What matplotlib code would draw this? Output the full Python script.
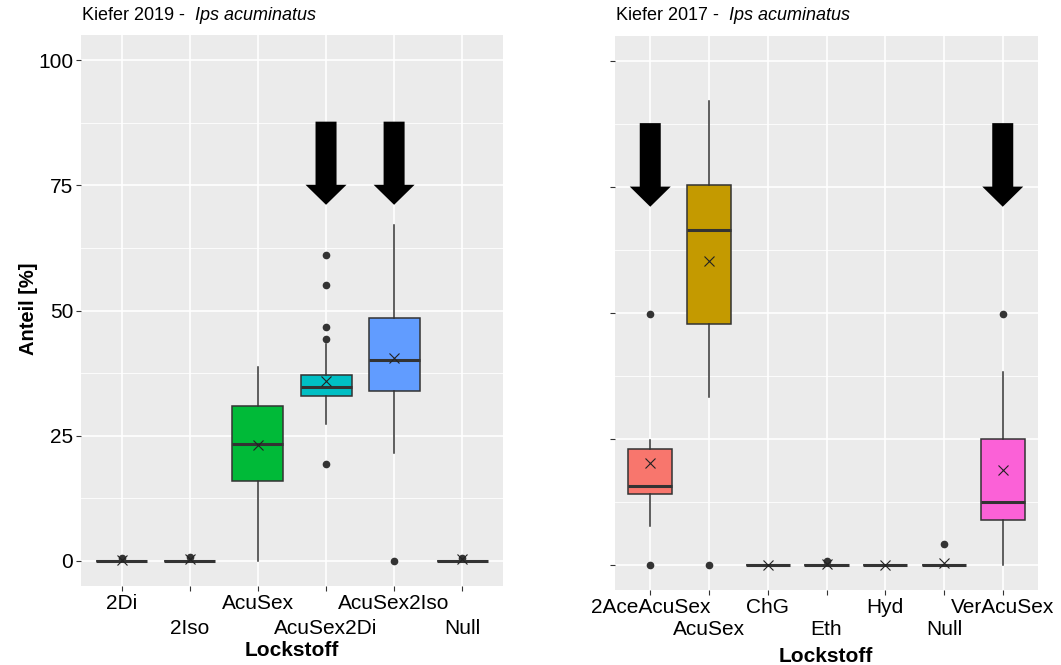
import matplotlib.pyplot as plt
from matplotlib.patches import Polygon

plt.rcParams['font.family'] = ['Liberation Sans', 'DejaVu Sans']
plt.rcParams['mathtext.fontset'] = 'custom'
plt.rcParams['mathtext.rm'] = 'Liberation Sans'
plt.rcParams['mathtext.it'] = 'Liberation Sans:italic'

# Kiefer 2019
cats_2019 = ['2Di', '2Iso', 'AcuSex', 'AcuSex2Di', 'AcuSex2Iso', 'Null']
colors_2019 = ['#F8766D', '#B79F00', '#00BA38', '#00BFC4', '#619CFF', '#F564E3']
whislo_2019 = [0, 0, 0, 27.3, 21.5, 0]
q1_2019 = [0, 0, 15.9, 32.9, 33.9, 0]
med_2019 = [0, 0, 23.3, 34.7, 40.2, 0]
q3_2019 = [0, 0, 30.9, 37.2, 48.6, 0]
whishi_2019 = [0, 0, 38.8, 43.4, 67.0, 0]
mean_2019 = [0.2, 0.3, 23.1, 36.0, 40.6, 0.3]
fliers_2019 = [[0.5], [0.7], [], [19.3, 44.4, 46.8, 55.0, 61.0], [0.0], [0.6]]
arrows_2019 = ['AcuSex2Di', 'AcuSex2Iso']

# Kiefer 2017
cats_2017 = ['2AceAcuSex', 'AcuSex', 'ChG', 'Eth', 'Hyd', 'Null', 'VerAcuSex']
colors_2017 = ['#F8766D', '#C49A00', '#53B400', '#00C094', '#00B6EB', '#A58AFF', '#FB61D7']
whislo_2017 = [7.7, 33.3, 0, 0, 0, 0, 0]
q1_2017 = [14.1, 47.8, 0, 0, 0, 0, 8.9]
med_2017 = [15.7, 66.5, 0, 0, 0, 0, 12.5]
q3_2017 = [23.0, 75.4, 0, 0, 0, 0, 25.0]
whishi_2017 = [24.8, 92.1, 0, 0, 0, 0, 38.3]
mean_2017 = [20.2, 60.3, 0, 0.1, 0, 0.3, 18.8]
fliers_2017 = [[0.0, 49.8], [0.0], [], [0.8], [], [4.1], [49.8]]
arrows_2017 = ['2AceAcuSex', 'VerAcuSex']

arrow_top, arrow_neck, arrow_tip = 87.7, 75.1, 71.1
yticks = [0, 25, 50, 75, 100]

W, H = 1061, 665
fig = plt.figure(figsize=(W / 100, H / 100), dpi=100)
ax1 = fig.add_axes([81 / W, 1 - 586 / H, (503 - 81) / W, (586 - 35) / H])
ax2 = fig.add_axes([615 / W, 1 - 590 / H, (1038 - 615) / W, (590 - 36) / H])


def draw_panel(ax, cats, colors, wlo, q1, med, q3, whi, means, fliers, arrows,
               show_labels, row2_pad):
    ax.set_facecolor('#EBEBEB')
    stats = []
    for i in range(len(cats)):
        stats.append(dict(whislo=wlo[i], q1=q1[i], med=med[i], q3=q3[i],
                          whishi=whi[i], fliers=fliers[i], label=cats[i]))
    pos = list(range(len(cats)))
    bp = ax.bxp(stats, positions=pos, widths=0.75, patch_artist=True,
                showcaps=False, manage_ticks=False,
                boxprops=dict(edgecolor='#333333', linewidth=1.1),
                medianprops=dict(color='#333333', linewidth=2.2),
                whiskerprops=dict(color='#333333', linewidth=1.1),
                flierprops=dict(marker='o', markerfacecolor='#333333',
                                markeredgecolor='#333333', markersize=4.5))
    for patch, c in zip(bp['boxes'], colors):
        patch.set_facecolor(c)
    ax.plot(pos, means, linestyle='none', marker='x', color='#222222',
            markersize=6.5, markeredgewidth=0.8, zorder=5)

    ax.set_xlim(-0.6, len(cats) - 0.4)
    ax.set_ylim(-5, 105)

    # arrow sizes in pixels, converted to category units
    px_per_unit = ax.get_position().width * W / (len(cats) + 0.2)
    shaft = 10.5 / px_per_unit
    head = 20.5 / px_per_unit
    for name in arrows:
        x = cats.index(name)
        poly = [(x - shaft, arrow_top), (x + shaft, arrow_top), (x + shaft, arrow_neck),
                (x + head, arrow_neck), (x, arrow_tip), (x - head, arrow_neck),
                (x - shaft, arrow_neck)]
        ax.add_patch(Polygon(poly, closed=True, facecolor='black', edgecolor='none', zorder=6))

    ax.set_yticks(yticks)
    ax.set_yticks([12.5, 37.5, 62.5, 87.5], minor=True)
    ax.set_xticks(pos)
    ax.set_xticklabels(cats, fontsize=15)
    for i, t in enumerate(ax.xaxis.get_major_ticks()):
        t.set_pad(2 if i % 2 == 0 else row2_pad)
    if show_labels:
        ax.set_yticklabels([str(t) for t in yticks], fontsize=15)
    else:
        ax.set_yticklabels([])
    ax.grid(which='major', color='white', linewidth=1.2)
    ax.grid(which='minor', axis='y', color='white', linewidth=0.6)
    ax.set_axisbelow(True)
    ax.tick_params(which='major', length=3.5, width=0.8, color='#333333')
    ax.tick_params(axis='y', which='major', pad=2)
    ax.tick_params(which='minor', length=0)
    for s in ax.spines.values():
        s.set_visible(False)


draw_panel(ax1, cats_2019, colors_2019, whislo_2019, q1_2019, med_2019, q3_2019,
           whishi_2019, mean_2019, fliers_2019, arrows_2019, True, 20)
draw_panel(ax2, cats_2017, colors_2017, whislo_2017, q1_2017, med_2017, q3_2017,
           whishi_2017, mean_2017, fliers_2017, arrows_2017, False, 18)

fig.text(81 / W, 1 - 16 / H, r'Kiefer 2019 -  $\mathit{Ips\ acuminatus}$', fontsize=13, va='center')
fig.text(615 / W, 1 - 16 / H, r'Kiefer 2017 -  $\mathit{Ips\ acuminatus}$', fontsize=13, va='center')
fig.text(28 / W, 1 - 309 / H, 'Anteil [%]', rotation=90, fontsize=14.5, fontweight='bold',
         ha='center', va='center')
fig.text(292 / W, 1 - 651 / H, 'Lockstoff', fontsize=15, fontweight='bold', ha='center', va='center')
fig.text(826 / W, 1 - 656 / H, 'Lockstoff', fontsize=15, fontweight='bold', ha='center', va='center')

fig.savefig('out.png', dpi=100)
